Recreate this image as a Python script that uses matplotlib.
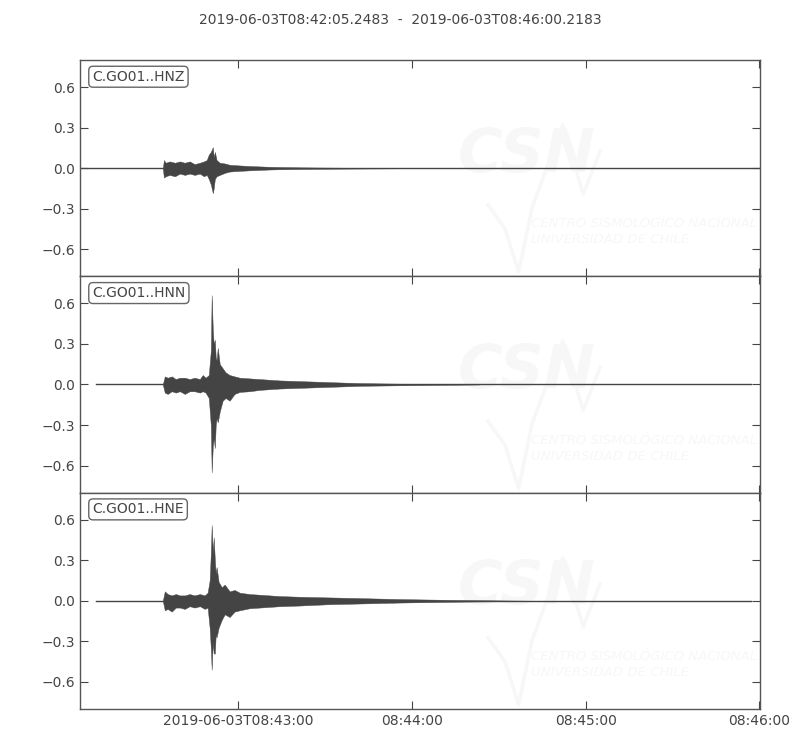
import datetime as dt
import matplotlib
matplotlib.use("Agg")
import matplotlib.pyplot as plt

# ---------------- data ----------------
title = "2019-06-03T08:42:05.2483  -  2019-06-03T08:46:00.2183"
trace_ids = ["C.GO01..HNZ", "C.GO01..HNN", "C.GO01..HNE"]
t_start = dt.datetime(2019, 6, 3, 8, 42, 5, 248300)
t_end = dt.datetime(2019, 6, 3, 8, 46, 0, 218300)

# trace extent (seconds after t_start)
trace_span = [(0.0, 234.97), (5.5, 231.7), (5.5, 231.7)]

# envelope of each trace: seconds after t_start, upper and lower amplitude
hnz_t = [28.6, 29.0, 29.6, 31.0, 32.8, 34.5, 36.2, 37.9, 39.6, 41.4, 42.8, 43.8, 44.5,
         45.2, 45.9, 46.2, 46.6, 47.2, 48.3, 50.0, 51.7, 55.2, 58.6, 62.1, 65.5,
         69.0, 75.9, 86.2, 103.4, 117.2]
hnz_up = [0.0, 0.06, 0.04, 0.05, 0.04, 0.05, 0.04, 0.05, 0.03, 0.04, 0.05, 0.06, 0.10,
          0.12, 0.155, 0.08, 0.12, 0.06, 0.04, 0.035, 0.025, 0.02, 0.016, 0.013, 0.01,
          0.008, 0.006, 0.004, 0.002, 0.0]
hnz_lo = [0.0, -0.07, -0.06, -0.05, -0.06, -0.04, -0.05, -0.04, -0.05, -0.04, -0.06, -0.05, -0.08,
          -0.12, -0.185, -0.15, -0.08, -0.06, -0.05, -0.035, -0.025, -0.02, -0.016, -0.013, -0.01,
          -0.008, -0.006, -0.004, -0.002, 0.0]

hnn_t = [28.6, 29.3, 30.3, 31.7, 33.1, 34.5, 36.2, 37.9, 39.6, 41.4, 42.4, 43.4, 44.5,
         45.2, 45.5, 45.9, 46.2, 46.6, 46.9, 47.2, 47.6, 48.3, 49.3, 50.3, 51.7, 53.4,
         55.2, 58.6, 62.1, 65.5, 69.0, 75.9, 82.8, 89.7, 96.6, 110.3, 124.1, 137.9]
hnn_up = [0.0, 0.06, 0.05, 0.06, 0.04, 0.05, 0.05, 0.04, 0.05, 0.04, 0.07, 0.05, 0.07,
          0.25, 0.66, 0.40, 0.30, 0.33, 0.20, 0.18, 0.27, 0.15, 0.12, 0.09, 0.07, 0.06,
          0.05, 0.045, 0.04, 0.035, 0.03, 0.025, 0.02, 0.015, 0.01, 0.006, 0.003, 0.0]
hnn_lo = [0.0, -0.06, -0.07, -0.05, -0.06, -0.05, -0.07, -0.05, -0.05, -0.06, -0.05, -0.06, -0.10,
          -0.30, -0.65, -0.45, -0.40, -0.47, -0.30, -0.25, -0.28, -0.20, -0.12, -0.10, -0.12, -0.07,
          -0.055, -0.05, -0.04, -0.035, -0.03, -0.025, -0.02, -0.015, -0.01, -0.006, -0.003, 0.0]

hne_t = [28.6, 29.3, 30.3, 31.7, 33.1, 34.5, 36.2, 37.9, 39.6, 41.4, 43.1, 44.1, 44.8,
         45.2, 45.5, 45.9, 46.2, 46.6, 46.9, 47.2, 47.9, 49.0, 50.0, 51.7, 53.4, 55.2,
         58.6, 62.1, 65.5, 69.0, 75.9, 86.2, 96.6, 110.3, 127.6, 144.8, 158.6]
hne_up = [0.0, 0.07, 0.05, 0.04, 0.05, 0.04, 0.04, 0.05, 0.04, 0.05, 0.04, 0.06, 0.15,
          0.35, 0.56, 0.35, 0.47, 0.30, 0.20, 0.25, 0.14, 0.10, 0.12, 0.07, 0.08, 0.06,
          0.05, 0.045, 0.04, 0.035, 0.03, 0.025, 0.02, 0.013, 0.007, 0.003, 0.0]
hne_lo = [0.0, -0.07, -0.06, -0.08, -0.05, -0.05, -0.06, -0.04, -0.05, -0.04, -0.06, -0.05, -0.20,
          -0.35, -0.51, -0.30, -0.39, -0.39, -0.25, -0.27, -0.20, -0.14, -0.10, -0.12, -0.08, -0.07,
          -0.055, -0.05, -0.045, -0.04, -0.035, -0.025, -0.02, -0.013, -0.007, -0.003, 0.0]

envelopes = [(hnz_t, hnz_up, hnz_lo), (hnn_t, hnn_up, hnn_lo), (hne_t, hne_up, hne_lo)]

y_ticks = [-0.6, -0.3, 0.0, 0.3, 0.6]
y_tick_labels = ["\u22120.6", "\u22120.3", "0.0", "0.3", "0.6"]
y_lim = 0.8
x_tick_times = [dt.datetime(2019, 6, 3, 8, m, 0) for m in (43, 44, 45, 46)]
x_tick_labels = ["2019-06-03T08:43:00", "08:44:00", "08:45:00", "08:46:00"]

# ---------------- drawing ----------------
dark = "#444444"
wm = "#f7f7f7"
plt.rcParams["font.family"] = ["DejaVu Sans"]

fig, axes = plt.subplots(3, 1, figsize=(8, 7.5), dpi=100, sharex=True)
fig.subplots_adjust(left=0.1, right=0.95, top=0.92, bottom=0.0547, hspace=0)


def to_dt(s):
    return t_start + dt.timedelta(seconds=float(s))


for ax, tid, (tt, up, lo), (s0, s1) in zip(axes, trace_ids, envelopes, trace_span):
    # faint watermark
    ax.text(0.555, 0.56, "CSN", transform=ax.transAxes, fontsize=44, fontweight="bold",
            fontstyle="italic", color=wm, ha="left", va="center", zorder=0, clip_on=True)
    ax.plot([0.6, 0.625, 0.645, 0.665, 0.71, 0.74, 0.765],
            [0.33, 0.22, 0.02, 0.32, 0.70, 0.38, 0.58],
            transform=ax.transAxes, color=wm, lw=2.5, zorder=0)
    ax.text(0.663, 0.205, "CENTRO SISMOLÓGICO NACIONAL\nUNIVERSIDAD DE CHILE",
            transform=ax.transAxes, fontsize=9.5, fontstyle="italic", color=wm,
            ha="left", va="center", linespacing=1.3, zorder=0, clip_on=True)

    # flat trace line
    ax.plot([to_dt(s0), to_dt(s1)], [0, 0], color=dark, lw=1.0, zorder=2)
    # waveform envelope
    dts = [to_dt(s) for s in tt]
    ax.fill_between(dts, lo, up, color=dark, lw=0.3, edgecolor=dark, zorder=3)

    ax.set_ylim(-y_lim, y_lim)
    ax.set_yticks(y_ticks)
    ax.set_yticklabels(y_tick_labels)
    ax.set_xlim(t_start, t_end)
    ax.tick_params(direction="in", length=6, width=0.8, colors=dark, labelcolor=dark,
                   labelsize=10, top=True, right=True)
    for sp in ax.spines.values():
        sp.set_color("#555555")
        sp.set_linewidth(1.0)
    ax.text(0.018, 0.955, tid, transform=ax.transAxes, ha="left", va="top", fontsize=10,
            color=dark, zorder=5,
            bbox=dict(boxstyle="round,pad=0.25,rounding_size=0.3", fc="white", ec="#666666", lw=1.0))

axes[-1].set_xticks(x_tick_times)
axes[-1].set_xticklabels(x_tick_labels)
for ax in axes[:-1]:
    ax.tick_params(labelbottom=False)

fig.suptitle(title, y=0.982, fontsize=10, color=dark)
fig.savefig("out.png", dpi=100)
